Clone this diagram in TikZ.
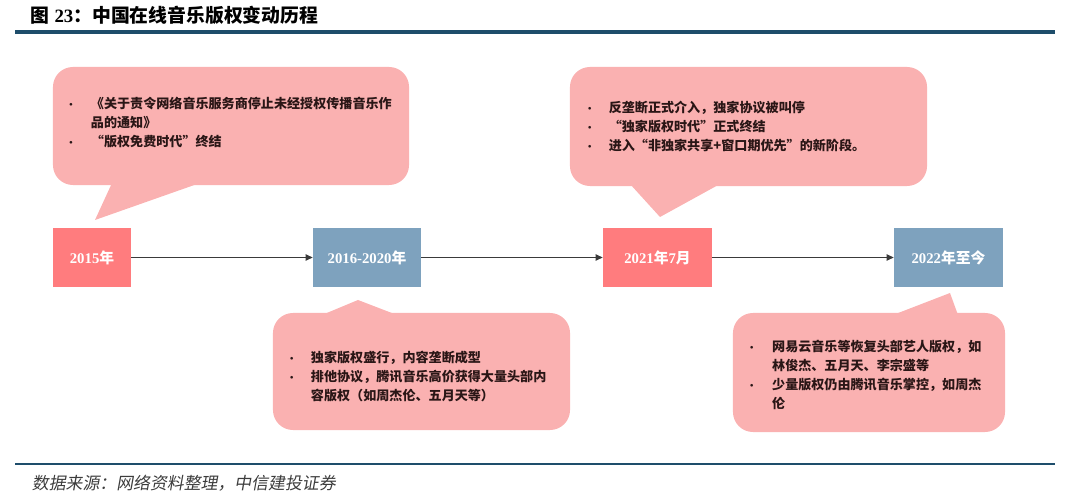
\documentclass[tikz,border=0pt]{standalone}
\usepackage{fontspec}
\setmainfont{Liberation Serif}
\newfontfamily\cjk{Noto Sans CJK SC}
\newfontfamily\cjkslant[FakeSlant=0.18]{Noto Sans CJK SC}
\usepackage{tikz}
\usetikzlibrary{arrows.meta}
\definecolor{salmonBox}{HTML}{FF7C7E}
\definecolor{steelBox}{HTML}{7EA2BE}
\definecolor{pinkNote}{HTML}{FAB1B1}
\definecolor{rulePetrol}{HTML}{1E4D6B}
\definecolor{textDark}{HTML}{2A1616}
\definecolor{arrowGray}{HTML}{3A3A3A}
\definecolor{sourceGray}{HTML}{3C3C3C}
\newcommand{\bul}{{\fontsize{7}{8}\selectfont •}}

\begin{document}
\begin{tikzpicture}[
  x=0.025cm, y=-0.025cm,
  >={Triangle[length=5pt, width=4.5pt]},
  arr/.style={->, draw=arrowGray, line width=0.7pt},
  yearbox/.style={minimum height=1.475cm, inner sep=0pt, text=white,
    font=\fontsize{10.5}{12}\selectfont\bfseries},
  callout/.style={fill=pinkNote, rounded corners=0.5cm, inner sep=0pt},
  note/.style={anchor=west, inner sep=0pt, text=textDark,
    font=\fontsize{9.3}{13.5}\selectfont\cjk\bfseries}
]
  \useasboundingbox (0,0) rectangle (1080,503);

  % --- Titulo y reglas ---
  \node[anchor=west, font=\fontsize{13.4}{16}\selectfont\bfseries] (titulo) at (26,15)
    {{\cjk 图} 23{\cjk ：中国在线音乐版权变动历程}};
  \draw[rulePetrol, line width=2.2pt] (15,32) -- (1055,32);
  \draw[rulePetrol, line width=1.8pt] (15,464) -- (1055,464);
  \node[anchor=west, text=sourceGray, font=\fontsize{12}{14}\selectfont\cjkslant] (fuente) at (27,483)
    {数据来源：网络资料整理，中信建投证券};

  % --- Cajas de anio ---
  \node[yearbox, fill=salmonBox, minimum width=1.95cm]  (y15) at (92,257.5)    {2015{\cjk 年}};
  \node[yearbox, fill=steelBox,  minimum width=2.7cm]   (y16) at (367,257.5)   {2016-2020{\cjk 年}};
  \node[yearbox, fill=salmonBox, minimum width=2.725cm] (y21) at (657.5,257.5) {2021{\cjk 年}7{\cjk 月}};
  \node[yearbox, fill=steelBox,  minimum width=2.725cm] (y22) at (948.5,257.5) {2022{\cjk 年至今}};

  % --- Flechas ---
  \draw[arr] (y15) -- (y16);
  \draw[arr] (y16) -- (y21);
  \draw[arr] (y21) -- (y22);

  % --- Globos (colas) ---
  \fill[pinkNote] (112,183) -- (95,220) -- (200,183) -- cycle;
  \fill[pinkNote] (630,184) -- (660,217) -- (720,184) -- cycle;
  \fill[pinkNote] (322,315) -- (358,300) -- (397,315) -- cycle;
  \fill[pinkNote] (893,315) -- (950,293) -- (958,315) -- cycle;

  % --- Globos (cuerpos) ---
  \node[callout, minimum width=8.9cm,   minimum height=2.95cm]  (c1) at (231,126)   {};
  \node[callout, minimum width=8.925cm, minimum height=2.975cm] (c2) at (748.5,126.5) {};
  \node[callout, minimum width=7.425cm, minimum height=2.925cm] (c3) at (421.5,371.5) {};
  \node[callout, minimum width=6.8cm,   minimum height=2.975cm] (c4) at (869,372.5)  {};

  % --- Textos de los globos ---
  \node[note] (t1) at ([xshift=0.33cm, yshift=0.05cm]c1.west) {\begin{tabular}{@{}p{0.62cm}@{}l@{}}
    \bul & 《关于责令网络音乐服务商停止未经授权传播音乐作\\
         & 品的通知》\\
    \bul & “版权免费时代”终结
  \end{tabular}};
  \node[note] (t2) at ([xshift=0.37cm, yshift=-0.04cm]c2.west) {\begin{tabular}{@{}p{0.6cm}@{}l@{}}
    \bul & 反垄断正式介入，独家协议被叫停\\
    \bul & “独家版权时代”正式终结\\
    \bul & 进入“非独家共享+窗口期优先”的新阶段。
  \end{tabular}};
  \node[note] (t3) at ([xshift=0.35cm, yshift=-0.16cm]c3.west) {\begin{tabular}{@{}p{0.6cm}@{}l@{}}
    \bul & 独家版权盛行，内容垄断成型\\
    \bul & 排他协议，腾讯音乐高价获得大量头部内\\
         & 容版权（如周杰伦、五月天等）
  \end{tabular}};
  \node[note] (t4) at ([xshift=0.35cm, yshift=-0.1cm]c4.west) {\begin{tabular}{@{}p{0.63cm}@{}l@{}}
    \bul & 网易云音乐等恢复头部艺人版权，如\\
         & 林俊杰、五月天、李宗盛等\\
    \bul & 少量版权仍由腾讯音乐掌控，如周杰\\
         & 伦
  \end{tabular}};
\end{tikzpicture}
\end{document}
